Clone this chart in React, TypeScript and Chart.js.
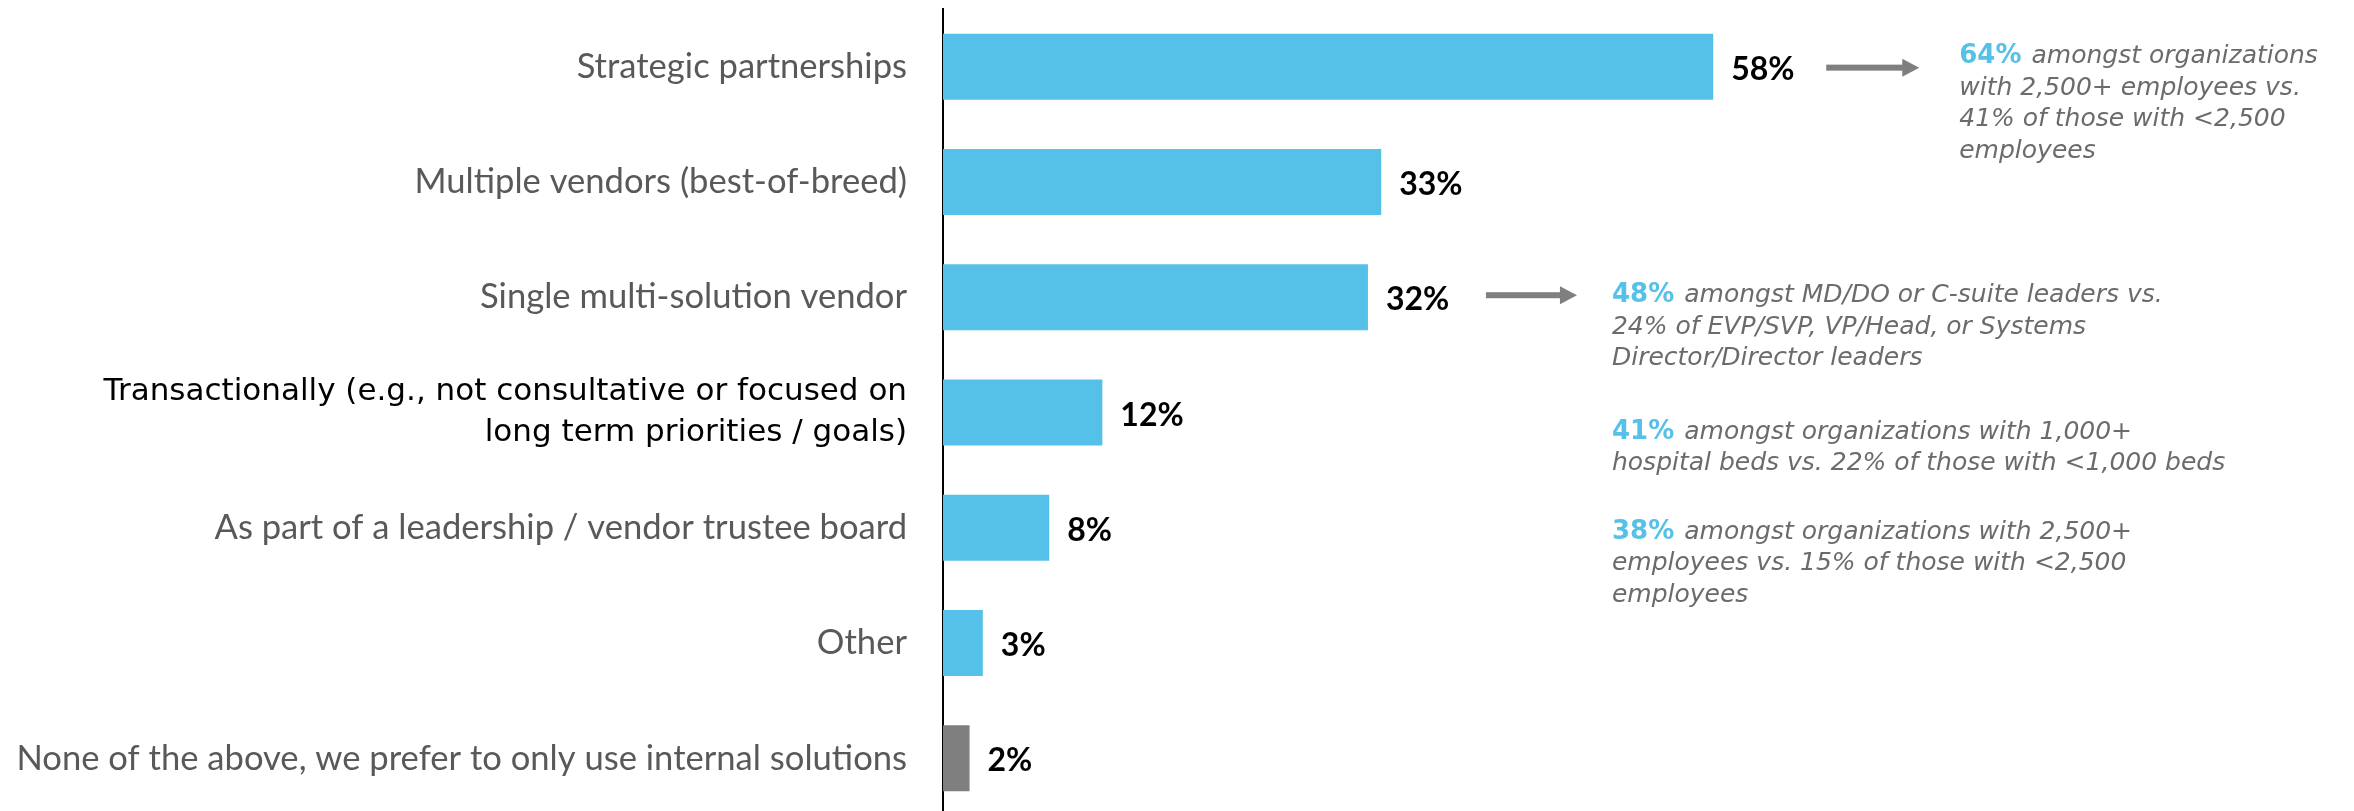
import React, { useEffect, useRef } from "react";
import { Chart, registerables } from "chart.js";

Chart.register(...registerables);

// ---- data ----
const categories: (string | string[])[] = [
  "Strategic partnerships",
  "Multiple vendors (best-of-breed)",
  "Single multi-solution vendor",
  ["Transactionally (e.g., not consultative or focused on", "long term priorities / goals)"],
  "As part of a leadership / vendor trustee board",
  "Other",
  "None of the above, we prefer to only use internal solutions",
];
const values = [58, 33, 32, 12, 8, 3, 2];
const valueLabels = values.map((v) => `${v}%`);

const note1Highlight = "64%";
const note1Lines = ["amongst organizations", "with 2,500+ employees vs.", "41% of those with <2,500", "employees"];
const note2Highlight = "48%";
const note2Lines = ["amongst MD/DO or C-suite leaders vs.", "24% of EVP/SVP, VP/Head, or Systems", "Director/Director leaders"];
const note3Highlight = "41%";
const note3Lines = ["amongst organizations with 1,000+", "hospital beds vs. 22% of those with <1,000 beds"];
const note4Highlight = "38%";
const note4Lines = ["amongst organizations with 2,500+", "employees vs. 15% of those with <2,500", "employees"];

// ---- style ----
const BLUE = "#56C1E8";
const GRAY_BAR = "#7F7F7F";
const LABEL_GRAY = "#595959";
const NOTE_GRAY = "#6B6B6B";
const NOTE_SIZE = 25;
const NOTE_STEP = 31.5;

function drawNote(ctx: CanvasRenderingContext2D, x: number, y: number, hl: string, lines: string[]) {
  ctx.save();
  ctx.textAlign = "left";
  ctx.textBaseline = "alphabetic";
  lines.forEach((line, i) => {
    let cx = x;
    if (i === 0) {
      ctx.font = `bold ${NOTE_SIZE + 1}px "DejaVu Sans"`;
      ctx.fillStyle = BLUE;
      ctx.fillText(hl, cx, y);
      cx += ctx.measureText(hl + " ").width + 1;
    }
    ctx.font = `italic ${NOTE_SIZE}px "DejaVu Sans"`;
    ctx.fillStyle = NOTE_GRAY;
    ctx.fillText(line, cx, y + i * NOTE_STEP);
  });
  ctx.restore();
}

function drawArrow(ctx: CanvasRenderingContext2D, x0: number, x1: number, y: number) {
  ctx.save();
  ctx.fillStyle = GRAY_BAR;
  const head = 17;
  ctx.fillRect(x0, y - 3, x1 - x0 - head + 1, 6);
  ctx.beginPath();
  ctx.moveTo(x1 - head, y - 9);
  ctx.lineTo(x1, y);
  ctx.lineTo(x1 - head, y + 9);
  ctx.closePath();
  ctx.fill();
  ctx.restore();
}

const labelsPlugin = {
  id: "valueLabelsAndNotes",
  afterDatasetsDraw(chart: any) {
    const ctx: CanvasRenderingContext2D = chart.ctx;
    const meta = chart.getDatasetMeta(0);
    ctx.save();
    ctx.font = `bold 32px Lato`;
    ctx.fillStyle = "#000";
    ctx.textAlign = "left";
    ctx.textBaseline = "alphabetic";
    meta.data.forEach((bar: any, i: number) => {
      ctx.fillText(valueLabels[i], bar.x + 18, bar.y + 13);
    });
    ctx.restore();

    const xs = chart.scales.x;
    const b0 = meta.data[0];
    const b2 = meta.data[2];
    const b3 = meta.data[3];
    const b4 = meta.data[4];
    const a1x = xs.getPixelForValue(values[0]) + 113;
    drawArrow(ctx, a1x, a1x + 93, b0.y + 1);
    drawNote(ctx, a1x + 133, b0.y - 3.5, note1Highlight, note1Lines);

    const a2x = xs.getPixelForValue(values[2]) + 118;
    drawArrow(ctx, a2x, a2x + 91, b2.y - 2);
    drawNote(ctx, a2x + 126, b2.y + 5, note2Highlight, note2Lines);
    drawNote(ctx, a2x + 126, b3.y + 26, note3Highlight, note3Lines);
    drawNote(ctx, a2x + 126, b4.y + 11, note4Highlight, note4Lines);
  },
};

export default function App() {
  const ref = useRef<HTMLCanvasElement | null>(null);
  useEffect(() => {
    document.body.style.margin = "0";
    document.body.style.overflow = "hidden";
    if (!ref.current) return;
    const chart = new Chart(ref.current, {
      type: "bar",
      data: {
        labels: categories,
        datasets: [
          {
            data: values,
            backgroundColor: values.map((_, i) => (i === values.length - 1 ? GRAY_BAR : BLUE)),
            borderWidth: 0,
            barPercentage: 0.5725,
            categoryPercentage: 1,
          },
        ],
      },
      options: {
        indexAxis: "y",
        responsive: true,
        maintainAspectRatio: false,
        animation: false,
        layout: { padding: { top: 9, bottom: 4, right: 83, left: 0 } },
        plugins: { legend: { display: false }, tooltip: { enabled: false } },
        scales: {
          x: { display: false, min: 0, max: 100 },
          y: {
            grid: { display: false, drawTicks: false },
            border: { display: true, color: "#000", width: 2 },
            ticks: {
              padding: 36,
              color: (c: any) => (c.index === 3 ? "#000" : LABEL_GRAY),
              font: (c: any) =>
                c.index === 3
                  ? { family: '"DejaVu Sans"', size: 31, lineHeight: 1.32 }
                  : { family: "Lato", size: 34.6, lineHeight: 1.2 },
            },
            afterFit: (s: any) => {
              s.width = 943;
              s.paddingTop = 0;
              s.paddingBottom = 0;
            },
          },
        },
      },
      plugins: [labelsPlugin],
    });
    return () => chart.destroy();
  }, []);
  return (
    <div style={{ position: "absolute", left: 0, top: 0, width: 2354, height: 811, overflow: "hidden", background: "#fff" }}>
      <div style={{ position: "relative", width: 2354, height: 820 }}>
        <canvas ref={ref} />
      </div>
    </div>
  );
}
